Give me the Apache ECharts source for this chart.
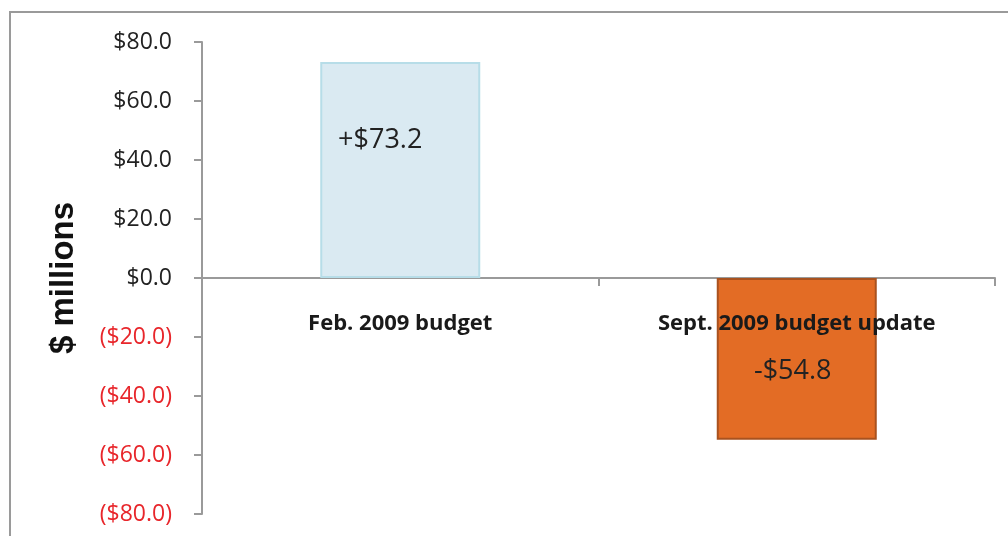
<!DOCTYPE html>
<html>
<head>
<meta charset="utf-8">
<script src="https://cdn.jsdelivr.net/npm/echarts@6/dist/echarts.min.js"></script>
<style>
  html, body { margin: 0; padding: 0; background: #fff; }
  #chart { width: 1008px; height: 536px; }
</style>
</head>
<body>
<div id="chart"></div>
<script>
const categories = ['Feb. 2009 budget', 'Sept. 2009 budget update']
const values = [73.2, -54.8]
const valueLabels = ['+$73.2', '-$54.8']
const barColors = ['#daeaf2', '#e36c25']
const barBorders = ['#b7dde8', '#a9521f']

const fmtTick = (v) => v < 0 ? `($${Math.abs(v).toFixed(1)})` : `$${v.toFixed(1)}`

const chart = echarts.init(document.getElementById('chart'))

chart.setOption({
  animation: false,
  grid: { top: 42, bottom: 22, left: 202, right: 13, outerBoundsMode: 'none', containLabel: false },
  graphic: [{
    type: 'rect',
    shape: { x: 10, y: 12, width: 1010, height: 540 },
    style: { fill: 'none', stroke: '#9a9a9a', lineWidth: 2 },
    silent: true
  }],
  yAxis: {
    type: 'value',
    min: -80,
    max: 80,
    interval: 20,
    name: '$ millions',
    nameLocation: 'middle',
    nameGap: 122,
    nameTextStyle: { fontFamily: 'Liberation Sans', fontWeight: 'bold', fontSize: 33, color: '#111' },
    axisLine: { show: true, lineStyle: { color: '#9a9a9a', width: 2 } },
    axisTick: { show: true, length: 8, lineStyle: { color: '#9a9a9a', width: 2 } },
    splitLine: { show: false },
    axisLabel: {
      margin: 30,
      fontFamily: 'Open Sans',
      fontSize: 23,
      color: (v) => Number(v) < 0 ? '#e8262b' : '#222',
      formatter: fmtTick
    }
  },
  xAxis: {
    type: 'category',
    data: categories,
    axisLine: { onZero: true, lineStyle: { color: '#9a9a9a', width: 2 } },
    axisTick: { show: true, length: 8, lineStyle: { color: '#9a9a9a', width: 2 } },
    axisLabel: { show: false }
  },
  series: [{
    type: 'bar',
    barWidth: 160,
    z: 2,
    data: values.map((v, i) => ({
      value: v,
      itemStyle: { color: barColors[i], borderColor: barBorders[i], borderWidth: 2 },
      label: {
        show: true,
        position: 'inside',
        offset: i === 0 ? [-20, -30] : [-4, 12],
        formatter: valueLabels[i],
        fontFamily: 'Open Sans',
        fontSize: 27,
        color: '#222'
      }
    }))
  }, {
    // category names sit just under the zero line, over the bars
    type: 'scatter',
    symbolSize: 0,
    z: 5,
    silent: true,
    itemStyle: { opacity: 1 },
    data: categories.map((c) => [c, 0]),
    label: {
      show: true,
      position: 'inside',
      offset: [0, 46],
      formatter: (p) => p.data[0],
      fontFamily: 'Open Sans',
      fontWeight: 'bold',
      fontSize: 22,
      color: '#1a1a1a',
      opacity: 1
    }
  }]
})
</script>
</body>
</html>
